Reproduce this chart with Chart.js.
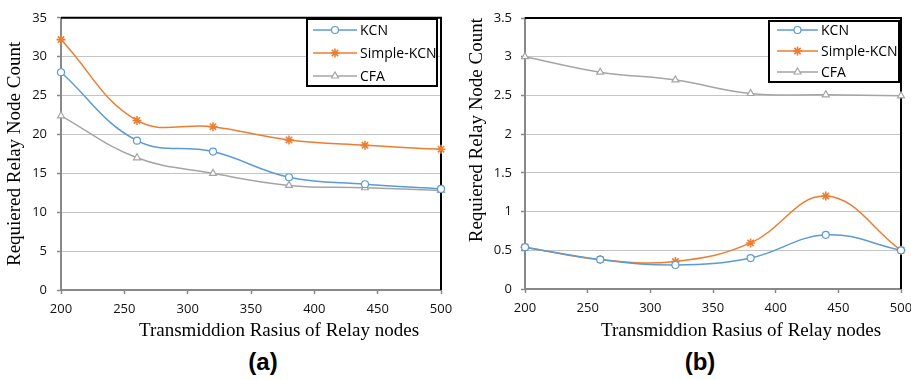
<!DOCTYPE html>
<html>
<head>
<meta charset="utf-8">
<script src="https://cdn.jsdelivr.net/npm/chart.js@4.4.1/dist/chart.umd.min.js"></script>
<style>
  body { margin: 0; background: #fff; overflow: hidden; }
  #wrap { position: relative; width: 911px; height: 380px; overflow: hidden; }
  canvas { position: absolute; top: 0; }
  #chartA { left: 0; }
  #chartB { left: 460px; }
  .xtitle {
    position: absolute; top: 320px; white-space: nowrap;
    font: 19px/19px "Liberation Serif", "DejaVu Serif", serif; color: #000;
    transform: translateX(-50%);
  }
  .cap {
    position: absolute; top: 350px; white-space: nowrap;
    font: bold 24px/24px "Liberation Sans", Arial, sans-serif; color: #000;
    transform: translateX(-50%);
  }
</style>
</head>
<body>
<div id="wrap">
  <canvas id="chartA" width="460" height="320"></canvas>
  <canvas id="chartB" width="470" height="320"></canvas>
  <div class="xtitle" style="left:279px">Transmiddion Rasius of Relay nodes</div>
  <div class="xtitle" style="left:741px">Transmiddion Rasius of Relay nodes</div>
  <div class="cap" style="left:263px">(a)</div>
  <div class="cap" style="left:700px">(b)</div>
</div>
<script>
// transmission radius (x)
const radius = [200, 260, 320, 380, 440, 500];

// chart (a)
const kcnA = [28.0, 19.2, 17.8, 14.5, 13.6, 13.0];
const simpleA = [32.2, 21.8, 21.0, 19.3, 18.6, 18.1];
const cfaA = [22.4, 17.0, 15.0, 13.45, 13.15, 12.8];

// chart (b)
const kcnB = [0.54, 0.38, 0.31, 0.40, 0.70, 0.50];
const simpleB = [0.54, 0.38, 0.355, 0.595, 1.20, 0.50];
const cfaB = [3.0, 2.8, 2.7, 2.525, 2.508, 2.495];

const seriesNames = ["KCN", "Simple-KCN", "CFA"];
const colores = ["#5B9BD5", "#ED7D31", "#A5A5A5"];
const estilos = ["circle", "star", "triangle"];
const radios = [3.5, 4.5, 4];
const grosores = [1.2, 1.6, 1.2];

const tickFont = { family: "'Open Sans', 'Liberation Sans', sans-serif", size: 13 };
const titleFont = { family: "'Liberation Serif', 'DejaVu Serif', serif", size: 19, lineHeight: 1.2 };

function dataset(i, valores) {
  return {
    label: seriesNames[i],
    data: radius.map((r, k) => ({ x: r, y: valores[k] })),
    borderColor: colores[i],
    borderWidth: 1.5,
    pointStyle: estilos[i],
    pointRadius: radios[i],
    pointBorderWidth: grosores[i],
    pointBackgroundColor: "#fff",
    pointBorderColor: colores[i],
    tension: 0.4,
    clip: false
  };
}

// black frame on top and right of the plot area
const marco = {
  id: "marco",
  beforeDatasetsDraw(chart) {
    const { ctx, chartArea: a } = chart;
    ctx.save();
    ctx.strokeStyle = "#000";
    ctx.lineWidth = 2;
    ctx.beginPath();
    ctx.moveTo(a.left, a.top);
    ctx.lineTo(a.right, a.top);
    ctx.lineTo(a.right, a.bottom);
    ctx.stroke();
    ctx.restore();
  }
};

// legend box drawn inside the plot
const leyenda = {
  id: "leyenda",
  afterDatasetsDraw(chart, args, opts) {
    const ctx = chart.ctx;
    ctx.save();
    ctx.fillStyle = "#fff";
    ctx.fillRect(opts.x, opts.y, opts.w, opts.h);
    ctx.strokeStyle = "#000";
    ctx.lineWidth = 2;
    ctx.strokeRect(opts.x, opts.y, opts.w, opts.h);
    chart.data.datasets.forEach((ds, i) => {
      const cy = opts.y + opts.first + i * opts.row;
      const x0 = opts.x + opts.lineStart;
      const x1 = x0 + opts.lineLen;
      ctx.strokeStyle = ds.borderColor;
      ctx.lineWidth = 1.5;
      ctx.beginPath();
      ctx.moveTo(x0, cy);
      ctx.lineTo(x1, cy);
      ctx.stroke();
      ctx.fillStyle = "#fff";
      ctx.strokeStyle = ds.borderColor;
      ctx.lineWidth = ds.pointBorderWidth;
      Chart.helpers.drawPoint(ctx, { pointStyle: ds.pointStyle, radius: ds.pointRadius, borderWidth: ds.pointBorderWidth, rotation: 0 }, (x0 + x1) / 2, cy);
      ctx.fillStyle = "#000";
      ctx.font = "14px 'Open Sans', 'Liberation Sans', sans-serif";
      ctx.textBaseline = "middle";
      ctx.fillText(ds.label, x1 + 3, cy + 1);
    });
    ctx.restore();
  }
};

function crear(id, sets, yMax, yStep, cfg) {
  return new Chart(document.getElementById(id), {
    type: "line",
    data: { datasets: sets },
    plugins: [marco, leyenda],
    options: {
      responsive: false,
      animation: false,
      devicePixelRatio: 1,
      layout: { padding: { left: 0, top: cfg.top, right: cfg.right, bottom: 0 } },
      plugins: {
        legend: { display: false },
        tooltip: { enabled: false },
        leyenda: cfg.leyenda
      },
      scales: {
        x: {
          type: "linear",
          min: 200,
          max: 500,
          afterFit: s => { s.height = cfg.xH; },
          ticks: { stepSize: 50, color: "#111", font: tickFont, padding: 7, maxRotation: 0 },
          grid: { drawOnChartArea: false, drawTicks: true, tickLength: 4, tickColor: "#888", tickWidth: 1.5 },
          border: { color: "#888", width: 2 }
        },
        y: {
          min: 0,
          max: yMax,
          afterFit: s => { s.width = cfg.yW; },
          ticks: {
            stepSize: yStep,
            color: "#111",
            font: tickFont,
            padding: cfg.yPad,
            callback: v => String(Math.round(v * 10) / 10)
          },
          grid: { color: "#c4c4c4", borderDash: [1, 2], tickLength: 4, tickColor: "#888", tickWidth: 1.5, tickBorderDash: [] },
          border: { color: "#888", width: 2 },
          title: {
            display: true,
            text: "Requiered Relay Node Count",
            color: "#000",
            font: titleFont,
            align: cfg.titleAlign,
            padding: { top: cfg.titlePad, bottom: 0 }
          }
        }
      }
    }
  });
}

crear("chartA", [dataset(0, kcnA), dataset(1, simpleA), dataset(2, cfaA)], 35, 5, {
  top: 14, right: 19, xH: 30, yW: 61, yPad: 10, titleAlign: "center", titlePad: 4,
  leyenda: { x: 307, y: 19, w: 130, h: 67, first: 11, row: 23, lineStart: 6, lineLen: 44 }
});

crear("chartB", [dataset(0, kcnB), dataset(1, simpleB), dataset(2, cfaB)], 3.5, 0.5, {
  top: 18, right: 29, xH: 31, yW: 65, yPad: 9, titleAlign: "end", titlePad: 6,
  leyenda: { x: 309, y: 21, w: 130, h: 61, first: 9, row: 21, lineStart: 8, lineLen: 41 }
});
</script>
</body>
</html>
